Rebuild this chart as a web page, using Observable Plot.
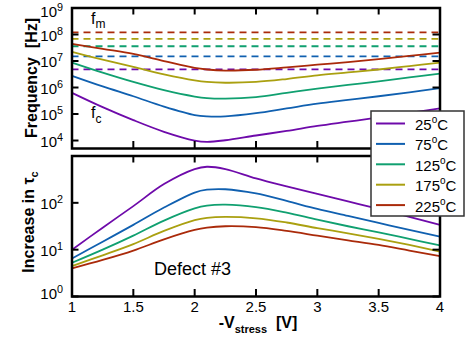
<!DOCTYPE html>
<html><head><meta charset="utf-8">
<script src="https://cdn.jsdelivr.net/npm/d3@7"></script>
<script src="https://cdn.jsdelivr.net/npm/@observablehq/plot@0.6"></script>
<style>
body{margin:0;background:#fff;}
#c{position:relative;width:475px;height:343px;font-family:"Liberation Sans",Arial,sans-serif;}
#c svg{position:absolute;left:0;overflow:visible;background:none;}
</style></head><body><div id="c"></div>
<script>
// ---- data ----
const vstress = [1, 1.25, 1.5, 1.75, 2, 2.1, 2.25, 2.5, 2.75, 3, 3.25, 3.5, 3.75, 4];
const temps = ["25", "75", "125", "175", "225"];
const colors = ["#6e0aaa", "#1060b0", "#10a070", "#aaa010", "#aa2a0a"];
// log10 of capture frequency f_c [Hz]
const fcExp25  = [5.80, 5.26, 4.77, 4.33, 4.00, 3.95, 4.01, 4.19, 4.36, 4.55, 4.71, 4.87, 5.04, 5.21];
const fcExp75  = [6.44, 6.04, 5.67, 5.28, 4.96, 4.91, 4.91, 5.03, 5.21, 5.39, 5.53, 5.67, 5.82, 5.98];
const fcExp125 = [6.94, 6.56, 6.21, 5.90, 5.66, 5.60, 5.58, 5.64, 5.80, 5.96, 6.10, 6.23, 6.38, 6.52];
const fcExp175 = [7.34, 7.05, 6.78, 6.50, 6.27, 6.21, 6.18, 6.21, 6.32, 6.46, 6.57, 6.68, 6.81, 6.94];
const fcExp225 = [7.65, 7.46, 7.27, 7.00, 6.74, 6.68, 6.64, 6.67, 6.76, 6.86, 6.96, 7.07, 7.19, 7.32];
// measurement frequency f_m [Hz]
const fm = [4.8e6, 1.5e7, 3.6e7, 6.9e7, 1.2e8];
// log10 of increase in tau_c
const tauExp25  = [1.00, 1.47, 1.93, 2.40, 2.72, 2.77, 2.72, 2.52, 2.35, 2.19, 2.03, 1.87, 1.70, 1.53];
const tauExp75  = [0.81, 1.17, 1.53, 1.90, 2.22, 2.28, 2.29, 2.20, 2.04, 1.87, 1.72, 1.57, 1.42, 1.28];
const tauExp125 = [0.72, 1.00, 1.30, 1.62, 1.88, 1.94, 1.96, 1.91, 1.79, 1.64, 1.50, 1.37, 1.23, 1.09];
const tauExp175 = [0.65, 0.88, 1.12, 1.40, 1.63, 1.68, 1.70, 1.67, 1.58, 1.46, 1.35, 1.23, 1.10, 0.96];
const tauExp225 = [0.60, 0.78, 0.98, 1.22, 1.42, 1.47, 1.50, 1.48, 1.40, 1.30, 1.20, 1.10, 0.98, 0.86];
const xTickLabels = [1, 1.5, 2, 2.5, 3, 3.5, 4];
const xInnerTicks = [1.5, 2, 2.5, 3, 3.5];
const fTicks = [1e4, 1e5, 1e6, 1e7, 1e8, 1e9];
const tauTicks = [1, 10, 100, 1000];
const tauTickLabels = [1, 10, 100];

const fcAll = [fcExp25, fcExp75, fcExp125, fcExp175, fcExp225];
const tauAll = [tauExp25, tauExp75, tauExp125, tauExp175, tauExp225];
const fcRows = temps.flatMap((t, i) => vstress.map((v, j) => ({v, f: 10 ** fcAll[i][j], t})));
const tauRows = temps.flatMap((t, i) => vstress.map((v, j) => ({v, k: 10 ** tauAll[i][j], t})));
const fmRows = temps.map((t, i) => ({t, f: fm[i]}));

const W = 475, ML = 71.5, MR = 35.5;
const iw = W - ML - MR;
const font = "Liberation Sans, Arial, sans-serif";
const TL = 7;

function frameTicks(yTicks, ih) {
  return [
    Plot.tickX(xInnerTicks, {x: d => d, insetTop: ih - TL, strokeWidth: 2}),
    Plot.tickX(xInnerTicks, {x: d => d, insetBottom: ih - TL, strokeWidth: 2}),
    Plot.tickY(yTicks, {y: d => d, insetRight: iw - TL, strokeWidth: 2}),
    Plot.tickY(yTicks, {y: d => d, insetLeft: iw - TL, strokeWidth: 2})
  ];
}
function supLabels(svg, shifts) {
  d3.select(svg).selectAll('g[aria-label="y-axis tick label"] text').each(function() {
    const e = this.textContent;
    const s = d3.select(this);
    const sh = shifts[e] !== undefined ? shifts[e] : 1.5;
    const tr = s.attr("transform") || "";
    s.attr("transform", `${tr} translate(0,${sh})`);
    s.text("");
    s.append("tspan").text("10");
    s.append("tspan").attr("dy", "-0.55em").attr("font-size", "0.72em").text(e);
  });
}

// ---- top panel ----
const H1 = 152, MT1 = 7.5, MB1 = 4;
const ih1 = H1 - MT1 - MB1;
const topPlot = Plot.plot({
  width: W, height: H1, marginTop: MT1, marginBottom: MB1, marginLeft: ML, marginRight: MR,
  style: {fontFamily: font, background: "none", color: "#000"},
  x: {domain: [1, 4], axis: null},
  y: {type: "log", domain: [5e3, 1e9]},
  color: {domain: temps, range: colors},
  marks: [
    Plot.ruleY(fmRows, {y: "f", x1: 1, x2: 3.99, stroke: "t", strokeWidth: 1.8, strokeDasharray: "7,5"}),
    Plot.line(fcRows, {x: "v", y: "f", z: "t", stroke: "t", strokeWidth: 1.8, curve: "catmull-rom"}),
    ...frameTicks(fTicks, ih1),
    Plot.axisY(fTicks, {tickSize: 0, tickPadding: 9, fontSize: 15, label: null, tickFormat: d => String(Math.round(Math.log10(d)))}),
    Plot.frame({strokeWidth: 2.5})
  ]
});
topPlot.style.top = "0px";
supLabels(topPlot, {"9": 4.5});

// ---- bottom panel ----
const H2 = 193, MT2 = 5.5, MB2 = 47;
const ih2 = H2 - MT2 - MB2;
const botPlot = Plot.plot({
  width: W, height: H2, marginTop: MT2, marginBottom: MB2, marginLeft: ML, marginRight: MR,
  style: {fontFamily: font, background: "none", color: "#000"},
  x: {domain: [1, 4]},
  y: {type: "log", domain: [1, 1000]},
  color: {domain: temps, range: colors},
  marks: [
    Plot.line(tauRows, {x: "v", y: "k", z: "t", stroke: "t", strokeWidth: 1.8, curve: "catmull-rom"}),
    ...frameTicks(tauTicks, ih2),
    Plot.axisY(tauTickLabels, {tickSize: 0, tickPadding: 9, fontSize: 15, label: null, tickFormat: d => String(Math.round(Math.log10(d)))}),
    Plot.axisX(xTickLabels, {tickSize: 0, tickPadding: 5, fontSize: 15, label: null, tickFormat: d => String(d)}),
    Plot.frame({strokeWidth: 2.5})
  ]
});
botPlot.style.top = "150px";
supLabels(botPlot, {"0": -2.5});

const c = document.getElementById("c");
c.appendChild(topPlot);
c.appendChild(botPlot);

// ---- overlay: labels and legend ----
const ov = d3.select(c).append("svg").attr("width", W).attr("height", 343)
  .style("top", "0px").style("pointer-events", "none")
  .attr("font-family", font).attr("fill", "#000");

ov.append("text").attr("transform", "translate(36.5,78) rotate(-90)")
  .attr("text-anchor", "middle").attr("font-size", 16).attr("font-weight", "bold")
  .attr("xml:space", "preserve").text("Frequency  [Hz]");

const yl2 = ov.append("text").attr("transform", "translate(33.5,222) rotate(-90)")
  .attr("text-anchor", "middle").attr("font-size", 16).attr("font-weight", "bold");
yl2.append("tspan").text("Increase in \u03c4");
yl2.append("tspan").attr("dy", 4).attr("font-size", 11).text("c");

const xl = ov.append("text").attr("x", 258).attr("y", 328).attr("text-anchor", "middle")
  .attr("font-size", 16).attr("font-weight", "bold").attr("xml:space", "preserve");
xl.append("tspan").text("-V");
xl.append("tspan").attr("dy", 5).attr("font-size", 11).text("stress");
xl.append("tspan").attr("dy", -5).text("  [V]");

const fmT = ov.append("text").attr("x", 91).attr("y", 24).attr("font-size", 16);
fmT.append("tspan").text("f");
fmT.append("tspan").attr("dy", 4).attr("font-size", 12).text("m");
const fcT = ov.append("text").attr("x", 91).attr("y", 118).attr("font-size", 16);
fcT.append("tspan").text("f");
fcT.append("tspan").attr("dy", 5).attr("font-size", 12).text("c");

ov.append("text").attr("x", 154).attr("y", 275).attr("font-size", 18).text("Defect #3");

// legend
const lg = ov.append("g");
lg.append("rect").attr("x", 371).attr("y", 111).attr("width", 93).attr("height", 105)
  .attr("fill", "#fff").attr("stroke", "#333").attr("stroke-width", 1.5);
temps.forEach((t, i) => {
  const y = 123.5 + i * 20.4;
  lg.append("line").attr("x1", 376).attr("x2", 405).attr("y1", y).attr("y2", y)
    .attr("stroke", colors[i]).attr("stroke-width", 2);
  const tx = lg.append("text").attr("x", 415).attr("y", y + 6.5).attr("font-size", 15);
  tx.append("tspan").text(t);
  tx.append("tspan").attr("dy", -7).attr("font-size", 10).text("o");
  tx.append("tspan").attr("dy", 7).text("C");
});
</script></body></html>
